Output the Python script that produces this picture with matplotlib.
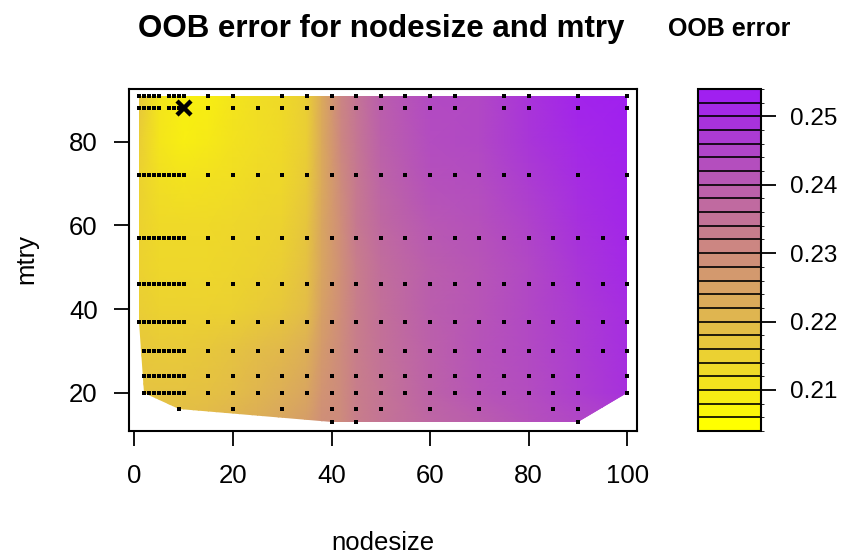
import numpy as np
import matplotlib
matplotlib.use("Agg")
import matplotlib.pyplot as plt
from matplotlib.colors import LinearSegmentedColormap, ListedColormap, BoundaryNorm
from matplotlib.cm import ScalarMappable
from matplotlib.patches import Polygon

plt.rcParams['font.family'] = ['Liberation Sans', 'DejaVu Sans']

# ---------------- data ----------------
# evaluated (nodesize, mtry) combinations, one list of nodesize per mtry row
mtry_rows = [91, 88, 72, 57, 46, 37, 30, 24, 20, 16, 13]
ns_m91 = [1, 2, 3, 4, 5, 7, 8, 9, 10, 15, 20, 30, 35, 40, 45, 50, 55, 60, 65, 75, 80, 90, 100]
ns_m88 = [1, 2, 3, 4, 5, 7, 8, 9, 10, 15, 20, 25, 30, 35, 40, 45, 50, 55, 60, 65, 75, 80, 90, 100]
ns_m72 = [1, 2, 3, 4, 5, 6, 7, 8, 9, 10, 15, 20, 25, 30, 35, 40, 45, 50, 55, 60, 65, 70, 75, 80, 90, 100]
ns_m57 = [1, 2, 3, 4, 5, 6, 7, 8, 9, 10, 15, 20, 25, 30, 35, 40, 45, 50, 55, 60, 65, 70, 75, 80, 85, 90, 95, 100]
ns_m46 = [1, 2, 3, 4, 5, 6, 7, 8, 9, 10, 15, 20, 25, 30, 35, 40, 45, 50, 55, 60, 65, 70, 75, 80, 85, 90, 95, 100]
ns_m37 = [1, 2, 3, 4, 5, 6, 7, 8, 9, 10, 15, 20, 25, 30, 35, 40, 45, 50, 55, 60, 65, 70, 75, 80, 85, 90, 95, 100]
ns_m30 = [2, 3, 4, 5, 6, 7, 8, 9, 10, 15, 20, 25, 30, 35, 40, 45, 50, 55, 60, 65, 70, 75, 80, 85, 90, 95, 100]
ns_m24 = [2, 3, 4, 5, 6, 7, 8, 9, 10, 15, 20, 25, 30, 35, 40, 45, 50, 55, 60, 65, 70, 75, 80, 85, 90, 100]
ns_m20 = [2, 3, 4, 5, 6, 7, 8, 9, 10, 15, 20, 25, 30, 35, 40, 45, 50, 55, 60, 65, 70, 75, 80, 85, 90, 100]
ns_m16 = [9, 20, 30, 40, 45, 50, 60, 70, 85, 90]
ns_m13 = [40, 45, 90]
row_lists = [ns_m91, ns_m88, ns_m72, ns_m57, ns_m46, ns_m37, ns_m30, ns_m24, ns_m20, ns_m16, ns_m13]

best_nodesize = 10
best_mtry = 88

grid_nodesize = [1, 5, 10, 15, 20, 25, 30, 35, 38, 42, 45, 50, 60, 70, 80, 90, 100]
grid_mtry = [13, 20, 30, 40, 50, 60, 70, 80, 91]
oob_m13 = [0.2190, 0.2190, 0.2190, 0.2200, 0.2210, 0.2225, 0.2240, 0.2260, 0.2290, 0.2300, 0.2330, 0.2350, 0.2380, 0.2400, 0.2430, 0.2450, 0.2465]
oob_m20 = [0.2175, 0.2175, 0.2175, 0.2180, 0.2190, 0.2205, 0.2220, 0.2240, 0.2280, 0.2300, 0.2330, 0.2350, 0.2390, 0.2420, 0.2440, 0.2470, 0.2500]
oob_m30 = [0.2165, 0.2160, 0.2160, 0.2165, 0.2175, 0.2190, 0.2200, 0.2220, 0.2265, 0.2300, 0.2330, 0.2355, 0.2395, 0.2425, 0.2445, 0.2475, 0.2505]
oob_m40 = [0.2150, 0.2140, 0.2140, 0.2140, 0.2145, 0.2155, 0.2165, 0.2190, 0.2250, 0.2295, 0.2330, 0.2360, 0.2400, 0.2420, 0.2450, 0.2480, 0.2510]
oob_m50 = [0.2140, 0.2130, 0.2130, 0.2130, 0.2135, 0.2140, 0.2150, 0.2180, 0.2240, 0.2290, 0.2330, 0.2365, 0.2400, 0.2420, 0.2450, 0.2490, 0.2520]
oob_m60 = [0.2140, 0.2125, 0.2125, 0.2125, 0.2130, 0.2135, 0.2140, 0.2170, 0.2240, 0.2295, 0.2340, 0.2375, 0.2415, 0.2430, 0.2460, 0.2500, 0.2525]
oob_m70 = [0.2140, 0.2115, 0.2105, 0.2110, 0.2115, 0.2125, 0.2130, 0.2160, 0.2230, 0.2300, 0.2340, 0.2385, 0.2430, 0.2440, 0.2475, 0.2510, 0.2530]
oob_m80 = [0.2150, 0.2100, 0.2080, 0.2090, 0.2105, 0.2115, 0.2125, 0.2150, 0.2230, 0.2310, 0.2345, 0.2395, 0.2440, 0.2450, 0.2490, 0.2520, 0.2535]
oob_m91 = [0.2165, 0.2100, 0.2075, 0.2080, 0.2100, 0.2115, 0.2125, 0.2150, 0.2230, 0.2315, 0.2350, 0.2400, 0.2445, 0.2450, 0.2495, 0.2530, 0.2540]

level_min = 0.204
level_max = 0.254
n_levels = 25
cbar_ticks = [0.21, 0.22, 0.23, 0.24, 0.25]
cbar_ticklabels = ['0.21', '0.22', '0.23', '0.24', '0.25']
x_ticks = [0, 20, 40, 60, 80, 100]
y_ticks = [20, 40, 60, 80]

# ---------------- figure ----------------
W, H = 844, 554
fig = plt.figure(figsize=(W / 100, H / 100), dpi=100)

def frac(x0, y0, x1, y1):
    return [x0 / W, 1 - y1 / H, (x1 - x0) / W, (y1 - y0) / H]

ax = fig.add_axes(frac(129, 88.7, 637, 431))
cax = fig.add_axes(frac(698, 89, 761, 431))

cmap = LinearSegmentedColormap.from_list('yp', ['#FFFF00', '#A020F0'])

Z = np.array([oob_m13, oob_m20, oob_m30, oob_m40, oob_m50, oob_m60, oob_m70, oob_m80, oob_m91])
XX, YY = np.meshgrid(grid_nodesize, grid_mtry)
mesh = ax.pcolormesh(XX, YY, Z, cmap=cmap, vmin=level_min, vmax=level_max,
                     shading='gouraud', zorder=1)

# points
px, py = [], []
for m, lst in zip(mtry_rows, row_lists):
    px.extend(lst)
    py.extend([m] * len(lst))
px = np.array(px, float)
py = np.array(py, float)

# convex hull of the evaluated points -> region of the interpolated surface
pts = sorted(set(zip(px, py)))
def cross(o, a, b):
    return (a[0] - o[0]) * (b[1] - o[1]) - (a[1] - o[1]) * (b[0] - o[0])
lower, upper = [], []
for p in pts:
    while len(lower) >= 2 and cross(lower[-2], lower[-1], p) <= 0:
        lower.pop()
    lower.append(p)
for p in reversed(pts):
    while len(upper) >= 2 and cross(upper[-2], upper[-1], p) <= 0:
        upper.pop()
    upper.append(p)
hull = lower[:-1] + upper[:-1]
poly = Polygon(hull, closed=True, facecolor='none', edgecolor='none')
ax.add_patch(poly)
mesh.set_clip_path(poly)

ax.plot(px, py, 's', ms=2.4, color='black', mew=0, zorder=3)
ax.plot([best_nodesize], [best_mtry], 'x', ms=10, mew=3.2, color='black', zorder=4)

ax.set_xlim(-1.1, 102)
ax.set_ylim(10.84, 92.7)
ax.set_xticks(x_ticks)
ax.set_yticks(y_ticks)
ax.tick_params(axis='both', direction='out', length=10.5, width=1.3, labelsize=18.5, color='black')
ax.tick_params(axis='x', pad=13)
ax.tick_params(axis='y', pad=12)
for s in ax.spines.values():
    s.set_linewidth(1.5)

fig.text(383 / W, 1 - 543 / H, 'nodesize', ha='center', va='center', fontsize=18.5)
fig.text(26 / W, 1 - 259 / H, 'mtry', ha='center', va='center', fontsize=18.5, rotation=90)
fig.text(381 / W, 1 - 37 / H, 'OOB error for nodesize and mtry', ha='center', va='baseline',
         fontsize=22.5, fontweight='bold')
fig.text(729.5 / W, 1 - 36 / H, 'OOB error', ha='center', va='baseline',
         fontsize=18, fontweight='bold')

# colour key
levels = np.linspace(level_min, level_max, n_levels + 1)
listed = ListedColormap(cmap(np.linspace(0, 1, n_levels)))
norm = BoundaryNorm(levels, n_levels)
cb = fig.colorbar(ScalarMappable(norm=norm, cmap=listed), cax=cax, drawedges=True)
cb.dividers.set_color('black')
cb.dividers.set_linewidth(1.2)
cb.outline.set_linewidth(1.5)
cb.set_ticks(cbar_ticks)
cb.set_ticklabels(cbar_ticklabels)
cax.tick_params(direction='out', length=11, width=1.3, pad=10, labelsize=17.5)

fig.savefig('out.png', dpi=100)
